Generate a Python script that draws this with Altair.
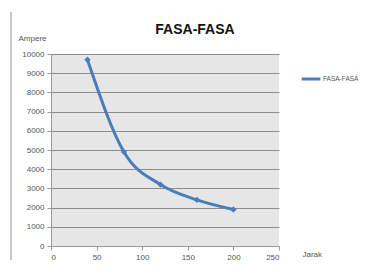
import altair as alt
import pandas as pd

jarak = [40, 80, 120, 160, 200]
ampere = [9700, 4900, 3200, 2400, 1900]
series = ["FASA-FASA"] * 5
title_text = ["FASA-FASA"]

df = pd.DataFrame({"Jarak": jarak, "Ampere": ampere, "Seri": series})

color = "#4a7ebb"

x_enc = alt.X("Jarak:Q", scale=alt.Scale(domain=[0, 250], nice=False),
              axis=alt.Axis(values=[0, 50, 100, 150, 200, 250], grid=False, format="d",
                            title="Jarak", titleAngle=0, titleX=251, titleY=8,
                            titleAlign="left", titleBaseline="middle",
                            titleFontWeight="normal", titleFontSize=8, titleColor="#555",
                            labelFontSize=8, labelColor="#555", domainColor="#999",
                            tickColor="#999", tickSize=4, labelPadding=3))
y_enc = alt.Y("Ampere:Q", scale=alt.Scale(domain=[0, 10000], nice=False),
              axis=alt.Axis(values=list(range(0, 10001, 1000)), grid=True, format="d",
                            gridColor="#8c8c8c", gridWidth=1, labelOverlap=False,
                            title="Ampere", titleAngle=0, titleX=-33, titleY=-16,
                            titleAlign="left", titleBaseline="middle",
                            titleFontWeight="normal", titleFontSize=8, titleColor="#555",
                            labelFontSize=8, labelColor="#555", domainColor="#999",
                            tickColor="#999", tickSize=4, labelPadding=3))

base = alt.Chart(df)

line = base.mark_line(interpolate="monotone", strokeWidth=3).encode(
    x=x_enc,
    y=y_enc,
    color=alt.Color("Seri:N", scale=alt.Scale(range=[color]),
                    legend=alt.Legend(title=None, orient="none", legendX=249, legendY=14,
                                      symbolType="stroke", symbolStrokeWidth=3,
                                      symbolSize=350, labelFontSize=6.5, labelColor="#555",
                                      labelOffset=1)),
)

points = base.mark_point(shape="diamond", filled=True, size=40, color=color, opacity=1).encode(
    x=x_enc, y=y_enc
)

border = base.mark_rule(color="#c8c8c8", strokeWidth=1, clip=False).encode(
    x=alt.value(-40), y=alt.value(-42), y2=alt.value(215)
)

title = alt.Chart(pd.DataFrame({"t": title_text})).mark_text(
    fontSize=14, fontWeight="bold", color="#111", font="Liberation Sans",
    align="center", baseline="middle", clip=False
).encode(text="t:N", x=alt.value(144), y=alt.value(-24))

chart = alt.layer(line, points, border, title).properties(
    width=228, height=192,
    autosize=alt.AutoSizeParams(type="none"),
    padding={"left": 43, "top": 46, "right": 80, "bottom": 14},
).configure_view(fill="#e6e6e6", stroke=None).configure_axis(
    labelFont="Liberation Sans", titleFont="Liberation Sans"
).configure_legend(labelFont="Liberation Sans")

chart.save("out.html", embed_options={"renderer": "svg", "actions": False})
